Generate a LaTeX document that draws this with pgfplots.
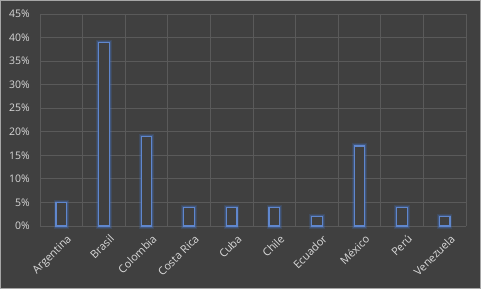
\documentclass[border=0pt]{standalone}
\usepackage{pgfplots}
\pgfplotsset{compat=1.18}
\usepackage{fontspec}
\setmainfont{Open Sans}
\definecolor{bg}{HTML}{404040}
\definecolor{gridc}{HTML}{5A5A5A}
\definecolor{txt}{HTML}{D9D9D9}
\definecolor{barc}{HTML}{4472C4}
\begin{document}
\begin{tikzpicture}[x=1bp,y=1bp]
\fill[bg] (0,0) rectangle (481,289);
\draw[gray!70,line width=1bp] (0.5,0.5) rectangle (480.5,288.5);
\begin{axis}[
  at={(40bp,63bp)}, anchor=south west,
  scale only axis, width=426bp, height=212bp,
  xmin=-0.5, xmax=9.5, ymin=0, ymax=45,
  xtick={0,...,9},
  xticklabels={Argentina,Brasil,Colombia,Costa Rica,Cuba,Chile,Ecuador,México,Perú,Venezuela},
  minor xtick={-0.5,0.5,...,9.5},
  ytick={0,5,...,45},
  yticklabel={\pgfmathprintnumber{\tick}\%},
  /pgf/number format/assume math mode=true,
  xmajorgrids=false, xminorgrids=true, ymajorgrids=true,
  grid style={gridc, line width=0.8bp},
  minor grid style={gridc, line width=0.8bp},
  axis line style={draw=none},
  major tick length=0pt, minor tick length=0pt,
  yticklabel style={font=\fontsize{10.5}{12}\selectfont, text=txt, inner sep=1bp, xshift=-9bp},
  xticklabel style={font=\fontsize{11}{13}\selectfont, text=txt, rotate=45, anchor=north east, inner sep=0bp, yshift=-9bp, xshift=-2bp},
  ybar, bar width=10.5bp,
  clip=false,
]
\addplot[bar shift=0pt, draw=barc, draw opacity=0.2, line width=5bp, fill=none] coordinates {
(0,5) (1,39) (2,19) (3,4) (4,4) (5,4) (6,2) (7,17) (8,4) (9,2)};
\addplot[bar shift=0pt, draw=barc, draw opacity=0.35, line width=3bp, fill=none] coordinates {
(0,5) (1,39) (2,19) (3,4) (4,4) (5,4) (6,2) (7,17) (8,4) (9,2)};
\addplot[bar shift=0pt, draw=barc!85!white, line width=1.2bp, fill=bg] coordinates {
(0,5) (1,39) (2,19) (3,4) (4,4) (5,4) (6,2) (7,17) (8,4) (9,2)};
\end{axis}
\end{tikzpicture}
\end{document}
